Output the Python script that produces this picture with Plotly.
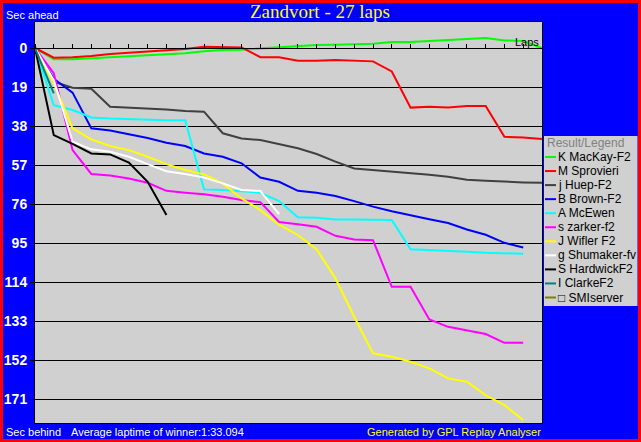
import plotly.graph_objects as go

# ---------------- data ----------------
laps = list(range(28))
names = ["K MacKay-F2", "M Sprovieri", "j Huep-F2", "B Brown-F2", "A McEwen",
         "s zarker-f2", "J Wifler F2", "g Shumaker-fv", "S HardwickF2", "I ClarkeF2",
         "\u25a1 SMIserver"]
colors = ["#00ff00", "#ff0000", "#404040", "#0000ff", "#00ffff",
          "#ff00ff", "#ffff00", "#ffffff", "#000000", "#008080", "#808000"]

mackay = [0, 5.5, 5.5, 5.0, 4.6, 4.2, 3.6, 3.1, 2.6, 1.6, 1.0, 0.8, 0.3, -0.5,
          -1.0, -1.5, -1.6, -1.9, -2.1, -2.9, -2.9, -3.4, -4.0, -4.5, -4.9, -3.7, -3.4, 0]
sprovieri = [0, 4.7, 4.5, 3.9, 2.9, 2.3, 1.5, 1.0, 0.5, -0.6, -0.6, -0.3, 4.5, 4.5,
             6.2, 6.2, 5.8, 6.0, 6.5, 11.4, 29.0, 28.6, 29.0, 28.2, 28.2, 43.2, 43.5, 44.3]
huep = [0, 16.4, 19.3, 19.8, 28.6, 29.0, 29.5, 29.9, 30.7, 31.0, 41.5, 44.0, 44.8, 46.7,
        48.8, 51.6, 55.3, 58.6, 59.4, 60.0, 60.7, 61.7, 62.7, 64.1, 64.6, 65.1, 65.4, 65.6]
brown = [0, 15.0, 21.7, 39.1, 40.2, 42.0, 43.8, 46.1, 47.7, 51.3, 52.9, 56.1, 63.0, 65.1,
         69.5, 70.4, 72.0, 74.5, 77.2, 79.4, 81.5, 83.3, 85.2, 88.3, 90.9, 94.8, 97.1]
mcewen = [0, 27.8, 30.2, 33.8, 34.3, 34.6, 34.7, 35.1, 35.1, 68.8, 69.1, 69.6, 70.4, 74.5,
          82.4, 82.6, 83.4, 83.4, 83.4, 83.7, 97.9, 98.3, 98.5, 99.2, 99.7, 100.0, 100.1]
zarker = [0, 12.3, 49.7, 61.3, 62.0, 63.5, 65.6, 69.5, 70.4, 71.2, 72.4, 74.0, 75.0, 84.7,
          85.8, 87.0, 91.4, 93.2, 93.5, 116.2, 116.2, 132.1, 135.7, 137.3, 139.2, 143.5, 143.5]
wifler = [0, 17.2, 39.1, 44.5, 47.7, 49.7, 52.9, 56.5, 59.4, 61.5, 65.9, 73.2, 78.9, 86.0,
          91.0, 98.0, 112.1, 130.8, 148.6, 150.3, 152.7, 155.9, 160.8, 162.4, 168.9, 173.8, 181.1]
shumaker = [0, 15.6, 45.6, 49.3, 50.5, 52.9, 56.5, 60.0, 61.3, 63.0, 65.9, 69.1, 69.6, 80.8]
hardwick = [0, 42.4, 46.7, 51.3, 51.8, 55.8, 65.1, 81.3]
clarke = [0, 22.1]
smiserver = [0]

series = [mackay, sprovieri, huep, brown, mcewen, zarker, wifler, shumaker,
          hardwick, clarke, smiserver]

y_ticks = [0, 19, 38, 57, 76, 95, 114, 133, 152, 171]
title_text = "Zandvort - 27 laps"
avg_text = "Average laptime of winner:1:33.094"

# ---------------- layout geometry ----------------
W, H = 641, 442
L, R, T, B = 35, 542, 22, 423
y_top, y_bot = -12.66, 182.5


def px(x):
    return (x - L) / (R - L)


def py(y):
    return (B - y) / (B - T)


fig = go.Figure()
for i, (nm, col, vals) in enumerate(zip(names, colors, series)):
    fig.add_trace(go.Scatter(
        x=laps[:len(vals)], y=vals, mode="lines", name=nm,
        line=dict(color=col, width=2), showlegend=False,
        xaxis="x2" if i == len(names) - 1 else "x", yaxis="y",
        hoverinfo="skip"))

zero_pos = (y_bot - 0) / (y_bot - y_top)

fig.update_layout(
    width=W, height=H,
    margin=dict(l=L, r=W - R, t=T, b=H - B, pad=0, autoexpand=False),
    paper_bgcolor="#0000ff",
    plot_bgcolor="#d0d0d0",
    showlegend=False,
    xaxis=dict(range=[0, 27], showgrid=False, zeroline=False, showticklabels=False,
               ticks="", showline=True, mirror=True, linecolor="black", linewidth=1,
               automargin=False, fixedrange=True),
    xaxis2=dict(range=[0, 27], overlaying="x", anchor="free", position=zero_pos,
                side="top", showgrid=False, zeroline=False, showticklabels=False,
                ticks="outside", ticklen=4, tickcolor="black", tickwidth=1,
                tickmode="linear", tick0=0, dtick=1, showline=True,
                linecolor="black", linewidth=1, automargin=False),
    yaxis=dict(range=[y_bot, y_top], tickvals=y_ticks,
               ticktext=[str(v) for v in y_ticks], automargin=False,
               showgrid=True, gridcolor="black", gridwidth=1, zeroline=False,
               ticks="outside", ticklen=4, tickcolor="black", tickwidth=1,
               showline=True, mirror=True, linecolor="black", linewidth=1,
               tickfont=dict(family="Liberation Sans", size=14, color="white",
                             weight="bold")),
)

ann = []
small = dict(family="Liberation Sans", size=11)


def note(x, y, text, font, xanchor="left"):
    ann.append(dict(x=px(x), y=py(y), xref="paper", yref="paper", text=text,
                    showarrow=False, xanchor=xanchor, yanchor="middle", font=font))


note(320, 11, title_text, dict(family="Liberation Serif", size=19, color="#ffff00"),
     "center")
note(4, 15, "Sec ahead", dict(**small, color="white"))
note(541, 42.5, "Laps", dict(**small, color="black"), "right")
note(4, 431.5, "Sec behind", dict(**small, color="white"))
note(69, 431.5, avg_text, dict(**small, color="white"))
note(543, 431.5, "Generated by GPL Replay Analyser", dict(**small, color="#ffff00"),
     "right")

shapes = []
# legend box
shapes.append(dict(type="rect", xref="paper", yref="paper",
                   x0=px(544), x1=px(637.5), y0=py(136), y1=py(306),
                   fillcolor="#d0d0d0", line=dict(width=0), layer="above"))
note(545, 143.5, "Result/Legend",
     dict(family="Liberation Sans", size=12, color="#808080"))
for i, (nm, col) in enumerate(zip(names, colors)):
    yc = 157 + i * 14.05
    shapes.append(dict(type="line", xref="paper", yref="paper",
                       x0=px(545), x1=px(556), y0=py(yc), y1=py(yc),
                       line=dict(color=col, width=2), layer="above"))
    note(555.5, yc, nm, dict(family="Liberation Sans", size=12, color="black"))

# red window border
shapes.append(dict(type="rect", xref="paper", yref="paper",
                   x0=px(1.5), x1=px(639.5), y0=py(1.5), y1=py(440.5),
                   line=dict(color="#ff0000", width=3), fillcolor="rgba(0,0,0,0)",
                   layer="above"))

fig.update_layout(annotations=ann, shapes=shapes)
fig.write_html("out.html",
               config={"displayModeBar": False},
               post_script="document.body.style.margin='0px';"
                           "document.body.style.overflow='hidden';")
